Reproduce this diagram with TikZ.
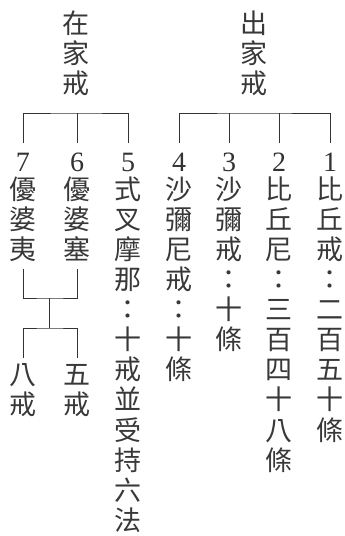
\documentclass[tikz,border=0pt]{standalone}
\usepackage{fontspec}
\setmainfont{Liberation Serif}
\newfontfamily\cjk{Noto Sans CJK TC}
\newcommand{\vcol}[4]{%
  \foreach \c [count=\i from 1] in {#4}
    \node[ch] (#1-\i) at (#2,{#3+30.1*(\i-1)}) {\c};}
\begin{document}
\begin{tikzpicture}[x=1pt,y=-1pt,
  ch/.style={font=\cjk\fontsize{27}{30}\selectfont, inner sep=0pt, outer sep=0pt,
             text height=23.76pt, text depth=3.24pt, text=black!78},
  num/.style={font=\fontsize{28}{30}\selectfont, inner sep=0pt, outer xsep=0pt,
              outer ysep=9.5pt, text height=19pt, text depth=0pt, text=black!80},
  ln/.style={line width=0.8pt, draw=black!80}]
\useasboundingbox (0,0) rectangle (345,536);
% titles
\vcol{tl}{76}{23}{在,家,戒}
\vcol{tr}{254}{23}{出,家,戒}
% numbers
\node[num] (d7) at (23,162) {7};
\node[num] (d6) at (77,162) {6};
\node[num] (d5) at (128,162) {5};
\node[num] (d4) at (179,162) {4};
\node[num] (d3) at (229,162) {3};
\node[num] (d2) at (279,162) {2};
\node[num] (d1) at (330,162) {1};
% columns
\vcol{c7}{23}{189}{優,婆,夷}
\vcol{c6}{77}{189}{優,婆,塞}
\vcol{c5}{128}{189}{式,叉,摩,那,：,十,戒,並,受,持,六,法}
\vcol{c4}{179}{189}{沙,彌,尼,戒,：,十,條}
\vcol{c3}{229}{189}{沙,彌,戒,：,十,條}
\vcol{c2}{279}{189}{比,丘,尼,：,三,百,四,十,八,條}
\vcol{c1}{330}{189}{比,丘,戒,：,二,百,五,十,條}
\vcol{c8}{23}{374}{八,戒}
\vcol{c9}{77}{374}{五,戒}
% top brackets
\coordinate (Lbar) at (77,113);
\coordinate (Rbar) at (254,113);
\draw[ln] (d7.north) |- (Lbar) -| (d5.north);
\draw[ln] (d6.north) -- (d6.north |- Lbar);
\draw[ln] (d4.north) |- (Rbar) -| (d1.north);
\draw[ln] (d3.north) -- (d3.north |- Rbar);
\draw[ln] (d2.north) -- (d2.north |- Rbar);
% lower bracket
\coordinate (J1) at (49.5,298);
\coordinate (J2) at (49.5,328);
\draw[ln] ([yshift=-6.5pt]c7-3.south) |- (J1) -| ([yshift=-6.5pt]c6-3.south);
\draw[ln] (J1) -- (J2);
\draw[ln] ([yshift=2.5pt]c8-1.north) |- (J2) -| ([yshift=2.5pt]c9-1.north);
\end{tikzpicture}
\end{document}
